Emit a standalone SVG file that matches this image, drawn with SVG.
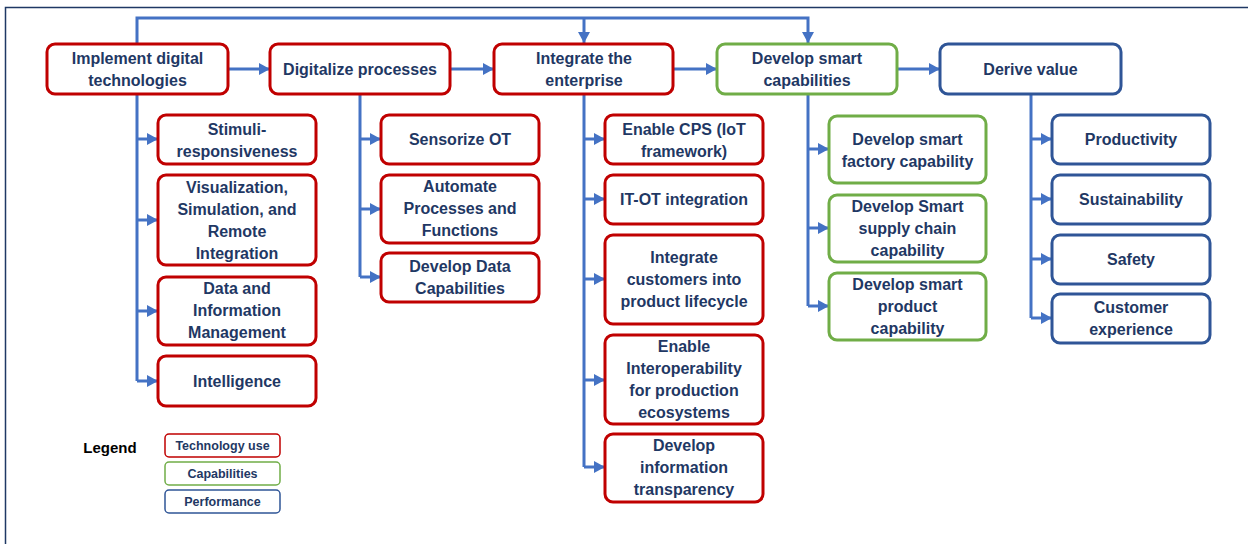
<svg xmlns="http://www.w3.org/2000/svg" width="1248" height="544" viewBox="0 0 1248 544">
<defs>
<marker id="ah" markerUnits="userSpaceOnUse" markerWidth="12" markerHeight="12" refX="11" refY="6" orient="auto">
<path d="M0,0 L11,6 L0,12 Z" fill="#4472C4"/>
</marker>
<style>
.box{fill:#fff;stroke-width:3}
.r{stroke:#C00000}
.g{stroke:#70AD47}
.b{stroke:#2F5597}
.lg{stroke-width:1.5}
text{font-family:"Liberation Sans",Arial,sans-serif;font-weight:bold;fill:#1F3864;text-anchor:middle}
.t{font-size:16px}
.s{font-size:12.5px}
.c{fill:none;stroke:#4472C4;stroke-width:3}
</style>
</defs>
<rect width="1248" height="544" fill="#fff"/>
<path d="M5.5,544 L5.5,7.5 L1248,7.5" fill="none" stroke="#1F3864" stroke-width="1.5"/>
<g id="connectors">
<path class="c" d="M137,43 L137,18 L808,18 L808,43" marker-end="url(#ah)"/>
<path class="c" d="M584,18 L584,43" marker-end="url(#ah)"/>
<path class="c" d="M228,69 L270,69" marker-end="url(#ah)"/>
<path class="c" d="M450,69 L494,69" marker-end="url(#ah)"/>
<path class="c" d="M673,69 L717,69" marker-end="url(#ah)"/>
<path class="c" d="M897,69 L940,69" marker-end="url(#ah)"/>
<path class="c" d="M137,94 L137,381"/>
<path class="c" d="M137,139 L158,139" marker-end="url(#ah)"/>
<path class="c" d="M137,220 L158,220" marker-end="url(#ah)"/>
<path class="c" d="M137,311 L158,311" marker-end="url(#ah)"/>
<path class="c" d="M137,381 L158,381" marker-end="url(#ah)"/>
<path class="c" d="M360,94 L360,277"/>
<path class="c" d="M360,139 L381,139" marker-end="url(#ah)"/>
<path class="c" d="M360,209 L381,209" marker-end="url(#ah)"/>
<path class="c" d="M360,277 L381,277" marker-end="url(#ah)"/>
<path class="c" d="M584,94 L584,467"/>
<path class="c" d="M584,139 L605,139" marker-end="url(#ah)"/>
<path class="c" d="M584,199 L605,199" marker-end="url(#ah)"/>
<path class="c" d="M584,279 L605,279" marker-end="url(#ah)"/>
<path class="c" d="M584,380 L605,380" marker-end="url(#ah)"/>
<path class="c" d="M584,467 L605,467" marker-end="url(#ah)"/>
<path class="c" d="M808,94 L808,306"/>
<path class="c" d="M808,149 L829,149" marker-end="url(#ah)"/>
<path class="c" d="M808,228 L829,228" marker-end="url(#ah)"/>
<path class="c" d="M808,306 L829,306" marker-end="url(#ah)"/>
<path class="c" d="M1031,94 L1031,318"/>
<path class="c" d="M1031,139 L1052,139" marker-end="url(#ah)"/>
<path class="c" d="M1031,199 L1052,199" marker-end="url(#ah)"/>
<path class="c" d="M1031,259 L1052,259" marker-end="url(#ah)"/>
<path class="c" d="M1031,318 L1052,318" marker-end="url(#ah)"/>
</g>
<g id="n-implement"><rect class="box r" x="47" y="44" width="181" height="50" rx="8"/><text class="t" x="137.5" y="64">Implement digital</text><text class="t" x="137.5" y="86">technologies</text></g>
<g id="n-digitalize"><rect class="box r" x="270" y="44" width="180" height="50" rx="8"/><text class="t" x="360" y="75">Digitalize processes</text></g>
<g id="n-integrate"><rect class="box r" x="494" y="44" width="179" height="50" rx="8"/><text class="t" x="584" y="64">Integrate the</text><text class="t" x="584" y="86">enterprise</text></g>
<g id="n-smart"><rect class="box g" x="717" y="44" width="180" height="50" rx="8"/><text class="t" x="807" y="64">Develop smart</text><text class="t" x="807" y="86">capabilities</text></g>
<g id="n-value"><rect class="box b" x="940" y="44" width="181" height="50" rx="8"/><text class="t" x="1030.5" y="75">Derive value</text></g>

<g id="n-stimuli"><rect class="box r" x="158" y="115" width="158" height="49" rx="8"/><text class="t" x="237" y="135">Stimuli-</text><text class="t" x="237" y="157">responsiveness</text></g>
<g id="n-visual"><rect class="box r" x="158" y="175" width="158" height="90" rx="8"/><text class="t" x="237" y="193">Visualization,</text><text class="t" x="237" y="215">Simulation, and</text><text class="t" x="237" y="237">Remote</text><text class="t" x="237" y="259">Integration</text></g>
<g id="n-data"><rect class="box r" x="158" y="277" width="158" height="68" rx="8"/><text class="t" x="237" y="294">Data and</text><text class="t" x="237" y="316">Information</text><text class="t" x="237" y="338">Management</text></g>
<g id="n-intel"><rect class="box r" x="158" y="356" width="158" height="50" rx="8"/><text class="t" x="237" y="387">Intelligence</text></g>

<g id="n-sensor"><rect class="box r" x="381" y="115" width="158" height="49" rx="8"/><text class="t" x="460" y="145">Sensorize OT</text></g>
<g id="n-automate"><rect class="box r" x="381" y="175" width="158" height="68" rx="8"/><text class="t" x="460" y="192">Automate</text><text class="t" x="460" y="214">Processes and</text><text class="t" x="460" y="236">Functions</text></g>
<g id="n-devdata"><rect class="box r" x="381" y="253" width="158" height="49" rx="8"/><text class="t" x="460" y="272">Develop Data</text><text class="t" x="460" y="294">Capabilities</text></g>

<g id="n-cps"><rect class="box r" x="605" y="115" width="158" height="49" rx="8"/><text class="t" x="684" y="135">Enable CPS (IoT</text><text class="t" x="684" y="157">framework)</text></g>
<g id="n-itot"><rect class="box r" x="605" y="175" width="158" height="49" rx="8"/><text class="t" x="684" y="205">IT-OT integration</text></g>
<g id="n-customers"><rect class="box r" x="605" y="235" width="158" height="89" rx="8"/><text class="t" x="684" y="263">Integrate</text><text class="t" x="684" y="285">customers into</text><text class="t" x="684" y="307">product lifecycle</text></g>
<g id="n-interop"><rect class="box r" x="605" y="335" width="158" height="89" rx="8"/><text class="t" x="684" y="352">Enable</text><text class="t" x="684" y="374">Interoperability</text><text class="t" x="684" y="396">for production</text><text class="t" x="684" y="418">ecosystems</text></g>
<g id="n-transp"><rect class="box r" x="605" y="434" width="158" height="68" rx="8"/><text class="t" x="684" y="451">Develop</text><text class="t" x="684" y="473">information</text><text class="t" x="684" y="495">transparency</text></g>

<g id="n-factory"><rect class="box g" x="829" y="116" width="157" height="67" rx="8"/><text class="t" x="907.5" y="145">Develop smart</text><text class="t" x="907.5" y="167">factory capability</text></g>
<g id="n-supply"><rect class="box g" x="829" y="195" width="157" height="67" rx="8"/><text class="t" x="907.5" y="212">Develop Smart</text><text class="t" x="907.5" y="234">supply chain</text><text class="t" x="907.5" y="256">capability</text></g>
<g id="n-product"><rect class="box g" x="829" y="273" width="157" height="67" rx="8"/><text class="t" x="907.5" y="290">Develop smart</text><text class="t" x="907.5" y="312">product</text><text class="t" x="907.5" y="334">capability</text></g>

<g id="n-productivity"><rect class="box b" x="1052" y="115" width="158" height="49" rx="8"/><text class="t" x="1131" y="145">Productivity</text></g>
<g id="n-sustain"><rect class="box b" x="1052" y="175" width="158" height="49" rx="8"/><text class="t" x="1131" y="205">Sustainability</text></g>
<g id="n-safety"><rect class="box b" x="1052" y="235" width="158" height="49" rx="8"/><text class="t" x="1131" y="265">Safety</text></g>
<g id="n-cx"><rect class="box b" x="1052" y="294" width="158" height="49" rx="8"/><text class="t" x="1131" y="313">Customer</text><text class="t" x="1131" y="335">experience</text></g>

<g id="legend">
<text x="110" y="453" style="font-size:15px;fill:#000">Legend</text>
<rect class="box r lg" x="165" y="434" width="115" height="23" rx="4"/><text class="s" x="222.5" y="450">Technology use</text>
<rect class="box g lg" x="165" y="462" width="115" height="23" rx="4"/><text class="s" x="222.5" y="478">Capabilities</text>
<rect class="box b lg" x="165" y="490" width="115" height="23" rx="4"/><text class="s" x="222.5" y="506">Performance</text>
</g>
</svg>
